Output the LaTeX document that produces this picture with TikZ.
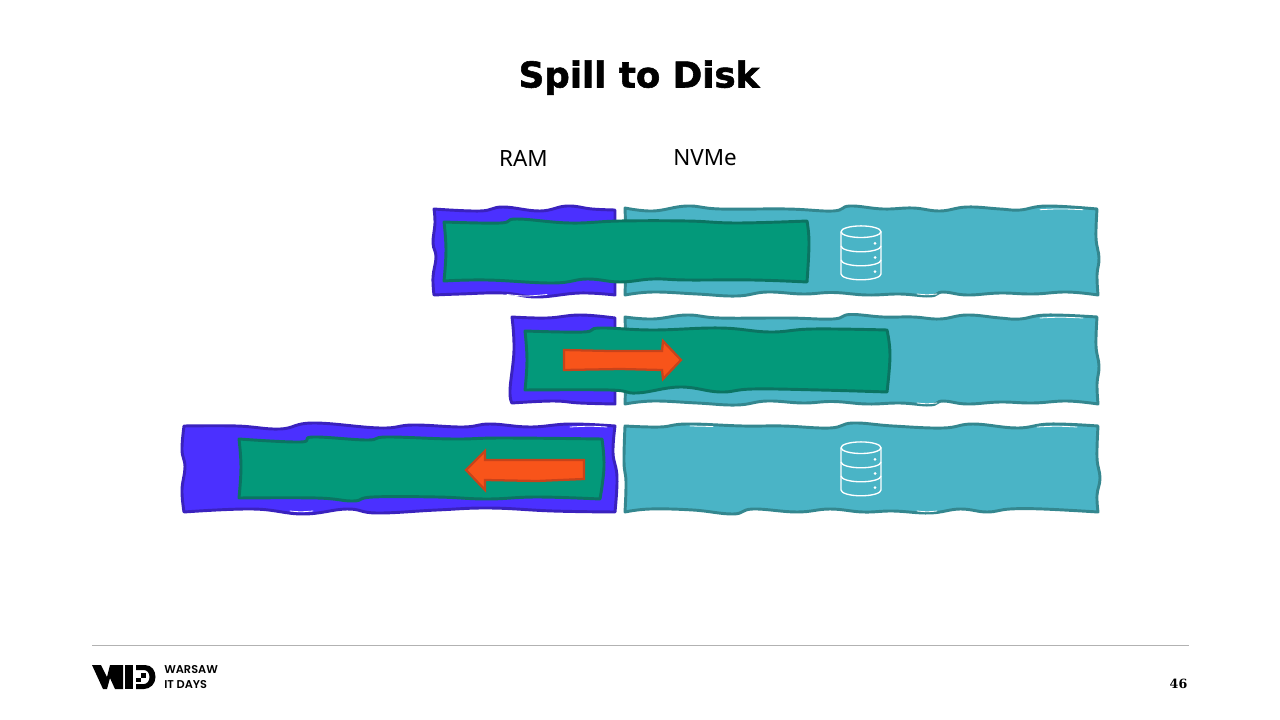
\documentclass[tikz,border=0pt]{standalone}
\usepackage{fontspec}
\setmainfont{Liberation Sans}
\newfontfamily\titlefont[FakeBold=1.6]{DejaVu Sans Bold}
\newfontfamily\labelfont{Noto Sans}
\newfontfamily\logofont{Poppins SemiBold}
\newfontfamily\pagefont{DejaVu Serif Bold}
\definecolor{ramfill}{HTML}{4B30FF}
\definecolor{ramline}{HTML}{3A22BE}
\definecolor{diskfill}{HTML}{4AB4C6}
\definecolor{diskline}{HTML}{34878F}
\definecolor{datafill}{HTML}{03997A}
\definecolor{dataline}{HTML}{0B7462}
\definecolor{arrowfill}{HTML}{F8541A}
\definecolor{arrowline}{HTML}{C8431A}
\tikzset{
  rambar/.style={fill=ramfill,draw=ramline,line width=2.2pt,line join=round},
  diskbar/.style={fill=diskfill,draw=diskline,line width=2.2pt,line join=round},
  databar/.style={fill=datafill,draw=dataline,line width=2.2pt,line join=round},
  movearrow/.style={fill=arrowfill,draw=arrowline,line width=1.7pt,line join=miter},
  dbline/.style={draw=white,line width=1pt,line join=round},
  sliver/.style={draw=white,line width=0.6pt,line cap=round}
}
\newcommand{\wavybar}[5]{%
  \path[#1] plot[smooth,tension=0.7] coordinates {#2}
    -- plot[smooth,tension=0.7] coordinates {#3}
    -- plot[smooth,tension=0.7] coordinates {#4}
    -- plot[smooth,tension=0.7] coordinates {#5} -- cycle;}
\newcommand{\dbicon}[1]{%
  \begin{scope}[shift={(0,#1)}]
    \draw[dbline] (841,231.7) arc[x radius=20,y radius=5.8,start angle=180,end angle=-180];
    \draw[dbline] (841,231.7) -- (841,274) arc[x radius=20,y radius=5.8,start angle=180,end angle=0] -- (881,231.7);
    \draw[dbline] (841,246) arc[x radius=20,y radius=5.8,start angle=180,end angle=0];
    \draw[dbline] (841,260) arc[x radius=20,y radius=5.8,start angle=180,end angle=0];
    \fill[white] (875,243.3) circle (1.5) (875,257.5) circle (1.5) (875,271.7) circle (1.5);
  \end{scope}}
\begin{document}
\begin{tikzpicture}[x=0.75pt,y=-0.75pt]
\useasboundingbox (0,0) rectangle (1280,720);
\fill[white] (0,0) rectangle (1280,720);

% Title and labels
\node[font=\titlefont\fontsize{26.7}{32}\selectfont,anchor=base,inner sep=0pt] (title) at (639,87.5) {Spill to Disk};
\node[font=\labelfont\fontsize{16.8}{20}\selectfont,anchor=base,inner sep=0pt] (ram) at (523.5,167) {RAM};
\node[font=\labelfont\fontsize{16.8}{20}\selectfont,anchor=base,inner sep=0pt] (nvme) at (705,166) {NVMe};

% Row 1
\wavybar{rambar}{(434,209) (480,211) (503,207) (540,211) (567,206) (592,209) (615,210)}
 {(615,210) (615,250) (615,295)}
 {(615,295) (580,293) (537,297) (503,293) (460,294) (434,295)}
 {(434,295) (433,277) (436,257) (433,243) (435,223) (434,209)}
\wavybar{diskbar}{(625,208) (653,211) (687,206) (720,209) (787,209) (833,211) (850,206) (883,209) (913,208) (940,211) (967,207) (1000,209) (1020,210) (1047,206) (1097,209)}
 {(1097,209) (1096,238) (1099,258) (1097,275) (1098,295)}
 {(1098,295) (1067,292) (1033,294) (1000,293) (967,295) (943,292) (930,296) (900,294) (867,295) (833,292.5) (803,294) (767,292) (737,296) (697,294) (653,292) (625,295)}
 {(625,295) (626,250) (625,208)}
\draw[sliver] (507,294.5) .. controls (525,296.5) .. (547,294.5);
\draw[sliver] (917,294) .. controls (927,295) .. (937,294);
\draw[sliver] (1040,209.7) .. controls (1060,208.7) .. (1083,209.7);
\wavybar{databar}{(444,222) (500,223) (517,219) (570,223) (620,221) (687,221) (737,223) (807,221)}
 {(807,221) (809,243) (807,282)}
 {(807,282) (753,280) (687,280) (653,279) (620,282) (587,279) (553,283) (487,280) (444,281)}
 {(444,281) (446,250) (444,222)}
\dbicon{0}

% Row 2
\wavybar{rambar}{(512,317) (547,318) (580,315) (615,318)}
 {(615,318) (615,360) (615,404)}
 {(615,404) (580,403) (553,401) (512,403)}
 {(512,403) (510,390) (514,350) (512,317)}
\wavybar{diskbar}{(625,317) (653,319) (687,315) (720,318) (787,318) (833,319) (850,314.5) (883,317) (913,317) (940,319) (967,315) (1000,318) (1020,319) (1047,315) (1097,317)}
 {(1097,317) (1096,346) (1099,366) (1097,384) (1098,404)}
 {(1098,404) (1067,401) (1033,403) (1000,402) (967,404) (943,401) (930,405) (900,403) (867,404) (833,401.5) (803,403) (767,401) (737,405) (697,403) (653,401) (625,404)}
 {(625,404) (626,360) (625,317)}
\draw[sliver] (917,403) .. controls (927,404) .. (937,403);
\draw[sliver] (1040,318) .. controls (1060,317) .. (1083,318);
\wavybar{databar}{(525,331) (583,332) (600,328) (653,330) (720,328) (770,332) (813,329) (887,330)}
 {(887,330) (890,355) (887,392)}
 {(887,392) (820,390) (753,389) (720,392) (680,387) (637,393) (610,390) (525,390)}
 {(525,390) (527,360) (525,331)}
\path[movearrow] (564,350) -- (610,351) -- (662,351) -- (663,341) -- (681,360) -- (663,379) -- (662,370) -- (620,369) -- (564,370) -- cycle;

% Row 3
\wavybar{rambar}{(184,426) (237,426) (280,429) (313,423) (380,428) (413,425) (463,427) (490,424) (530,427) (570,424) (615,426)}
 {(615,426) (613,453) (617,477) (615,512)}
 {(615,512) (553,511) (490,508) (437,510) (377,513) (347,509) (303,514) (253,509) (184,512)}
 {(184,512) (182,490) (185,467) (182,450) (184,426)}
\draw[sliver] (570,427) .. controls (590,426) .. (607,427);
\draw[sliver] (290,511) .. controls (300,512) .. (313,511);
\wavybar{diskbar}{(625,426) (660,427) (687,424) (743,426) (783,426) (830,428) (853,423) (893,426) (943,428) (973,424) (1017,428) (1050,424) (1098,426)}
 {(1098,426) (1097,458) (1100,478) (1097,495) (1098,512)}
 {(1098,512) (1043,509) (1010,509) (987,512) (960,509) (930,513) (893,511) (863,512) (830,509) (797,512) (753,509) (733,514) (693,510) (650,509) (625,512)}
 {(625,512) (626,482) (624,462) (625,426)}
\draw[sliver] (917,511) .. controls (927,512) .. (937,511);
\draw[sliver] (1037,427) .. controls (1057,426) .. (1077,427);
\draw[sliver] (690,426) .. controls (701,425.5) .. (713,426.5);
\wavybar{databar}{(239,439) (300,442) (313,437) (367,440) (387,437) (453,439) (503,438) (602,439)}
 {(602,439) (604,467) (600,499)}
 {(600,499) (537,497) (487,499) (437,497) (373,497) (353,501) (317,498) (239,498)}
 {(239,498) (241,467) (239,439)}
\path[movearrow] (584,460) -- (537,460) -- (485,460) -- (485,451) -- (466,470) -- (485,490) -- (485,480) -- (537,481) -- (584,479) -- cycle;
\dbicon{216}

% Footer
\draw[draw=black!30,line width=0.75pt] (92,645.5) -- (1189,645.5);
\fill[black] (92,665) -- (101,665) -- (107,677) -- (110,665) -- (123,665) -- (123,689) -- (115,689) -- (110,678) -- (107,689) -- (103,689) -- cycle;
\fill[black] (125,665) rectangle (133,689);
\fill[black] (136,665) -- (145,665) .. controls (152,665) and (155.5,671) .. (155.5,677) .. controls (155.5,684) and (150,689) .. (144,689) -- (136,689) -- (136,684) -- (144,684) .. controls (147,684) and (149.5,681) .. (149.5,677) .. controls (149.5,673) and (147,670) .. (144,670) -- (136,670) -- cycle;
\fill[black] (141,673) rectangle (146,678);
\fill[black] (136,678) rectangle (141,682);
\node[font=\logofont\fontsize{8.5}{10}\selectfont,anchor=west,inner sep=0pt] (warsaw) at (164,670) {WARSAW};
\node[font=\logofont\fontsize{8.5}{10}\selectfont,anchor=west,inner sep=0pt] (itdays) at (164,684.5) {IT DAYS};
\node[font=\pagefont\fontsize{9.5}{11}\selectfont,anchor=center,inner sep=0pt] (page) at (1178.5,684) {46};
\end{tikzpicture}
\end{document}
